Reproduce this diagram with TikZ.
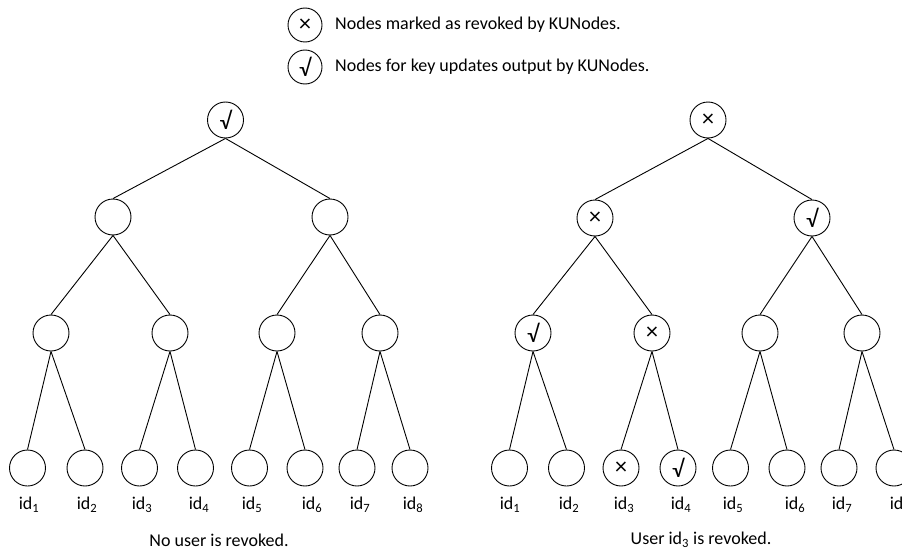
\documentclass[tikz,border=0pt]{standalone}
\usepackage{fontspec}
\setmainfont{Carlito}
\begin{document}
\begin{tikzpicture}[x=1pt,y=-1pt,
  tn/.style={circle,draw=black,line width=0.9pt,minimum size=36pt,inner sep=0pt,font=\fontsize{24}{26}\selectfont},
  ln/.style={circle,draw=black,line width=0.9pt,minimum size=34pt,inner sep=0pt,font=\fontsize{24}{26}\selectfont},
  lab/.style={font=\fontsize{18}{21}\selectfont,inner sep=0pt},
  edge/.style={line width=0.9pt}]
\useasboundingbox (0,0) rectangle (902,551);
\clip (0,0) rectangle (902,551);
% legend
\node[ln] (lx) at (305,25) {×};
\node[ln] (lv) at (305,67) {√};
\node[lab,anchor=west] (tx) at (335,25) {Nodes marked as revoked by KUNodes.};
\node[lab,anchor=west] (tv) at (335,67) {Nodes for key updates output by KUNodes.};
% left tree
\node[tn] (LR) at (225.5,120) {√};
\node[tn] (LA) at (113,217) {};
\node[tn] (LB) at (330,217) {};
\node[tn] (LC) at (51,333) {};
\node[tn] (LD) at (170,333) {};
\node[tn] (LE) at (277,333) {};
\node[tn] (LF) at (380,333) {};
\node[tn] (L1) at (27.5,468) {};
\node[tn] (L2) at (85,468) {};
\node[tn] (L3) at (139.5,468) {};
\node[tn] (L4) at (195.5,468) {};
\node[tn] (L5) at (249.5,468) {};
\node[tn] (L6) at (305,468) {};
\node[tn] (L7) at (357,468) {};
\node[tn] (L8) at (410,468) {};
\foreach \p/\c in {LR/LA,LR/LB,LA/LC,LA/LD,LB/LE,LB/LF,LC/L1,LC/L2,LD/L3,LD/L4,LE/L5,LE/L6,LF/L7,LF/L8}
  \draw[edge] (\p.south) -- (\c.north);
\node[lab] (Li1) at (29,505) {id\textsubscript{1}};
\node[lab] (Li2) at (87,505) {id\textsubscript{2}};
\node[lab] (Li3) at (142,505) {id\textsubscript{3}};
\node[lab] (Li4) at (199,505) {id\textsubscript{4}};
\node[lab] (Li5) at (252,505) {id\textsubscript{5}};
\node[lab] (Li6) at (312,505) {id\textsubscript{6}};
\node[lab] (Li7) at (360,505) {id\textsubscript{7}};
\node[lab] (Li8) at (413,505) {id\textsubscript{8}};
\node[lab] (capL) at (219,540) {No user is revoked.};
% right tree
\node[tn] (RR) at (708,120) {×};
\node[tn] (RA) at (595,218) {×};
\node[tn] (RB) at (812,218) {√};
\node[tn] (RC) at (533,333) {√};
\node[tn] (RD) at (652,333) {×};
\node[tn] (RE) at (760,333) {};
\node[tn] (RF) at (862,333) {};
\node[tn] (R1) at (509.5,468) {};
\node[tn] (R2) at (566.5,468) {};
\node[tn] (R3) at (621,468) {×};
\node[tn] (R4) at (678,468) {√};
\node[tn] (R5) at (730.5,468) {};
\node[tn] (R6) at (787,468) {};
\node[tn] (R7) at (839,468) {};
\node[tn] (R8) at (894,468) {};
\foreach \p/\c in {RR/RA,RR/RB,RA/RC,RA/RD,RB/RE,RB/RF,RC/R1,RC/R2,RD/R3,RD/R4,RE/R5,RE/R6,RF/R7,RF/R8}
  \draw[edge] (\p.south) -- (\c.north);
\node[lab] (Ri1) at (510,505) {id\textsubscript{1}};
\node[lab] (Ri2) at (569,505) {id\textsubscript{2}};
\node[lab] (Ri3) at (624,505) {id\textsubscript{3}};
\node[lab] (Ri4) at (681,505) {id\textsubscript{4}};
\node[lab] (Ri5) at (733,505) {id\textsubscript{5}};
\node[lab] (Ri6) at (795,505) {id\textsubscript{6}};
\node[lab] (Ri7) at (842,505) {id\textsubscript{7}};
\node[lab] (Ri8) at (900,505) {id\textsubscript{8}};
\node[lab] (capR) at (701,540) {User id\textsubscript{3} is revoked.};
\end{tikzpicture}
\end{document}
